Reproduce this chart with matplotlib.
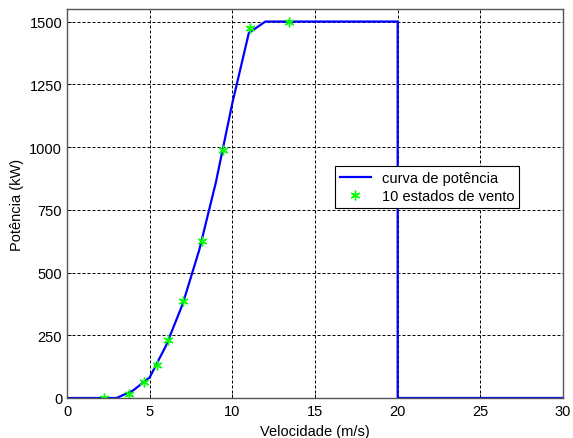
import matplotlib
matplotlib.use("Agg")
import matplotlib.pyplot as plt

# curva de potência (m/s, kW)
vel_curva = [0, 1, 2, 3, 4, 5, 6, 7, 8, 9, 10, 11, 12, 13, 14, 15, 16, 17, 18, 19, 20, 20, 25, 30]
pot_curva = [0, 0, 0, 0, 30, 82, 210, 375, 590, 858, 1175, 1455, 1500, 1500, 1500, 1500, 1500,
             1500, 1500, 1500, 1500, 0, 0, 0]

# 10 estados de vento
vel_estados = [2.26, 3.77, 4.68, 5.42, 6.13, 7.04, 8.15, 9.42, 11.07, 13.45]
pot_estados = [0, 16, 62, 132, 232, 387, 625, 987, 1475, 1500]

xticks = [0, 5, 10, 15, 20, 25, 30]
yticks = [0, 250, 500, 750, 1000, 1250, 1500]

plt.rcParams['font.family'] = ['Liberation Sans', 'DejaVu Sans']
plt.rcParams['font.size'] = 10.5

fig = plt.figure(figsize=(5.73, 4.39), dpi=100)
ax = fig.add_axes([67 / 573, 1 - 399 / 439, 496 / 573, 389 / 439])

ax.plot(vel_curva, pot_curva, color=(0, 0, 1), linewidth=1.6, label='curva de potência')
ax.plot(vel_estados, pot_estados, linestyle='none', marker=(6, 2, 0), markersize=7,
        markeredgewidth=1.0, color=(0, 1, 0), label='10 estados de vento')

ax.set_xlim(0, 30)
ax.set_ylim(0, 1550)
ax.set_xticks(xticks)
ax.set_yticks(yticks)
ax.grid(True, color='black', linestyle=(0, (3, 2)), linewidth=0.72)
ax.tick_params(direction='in', length=3, width=0.7, colors='black')
ax.tick_params(axis='x', pad=4.5)
ax.tick_params(axis='y', pad=3.5)
for s in ax.spines.values():
    s.set_color('#555555')
    s.set_linewidth(1.0)

ax.set_xlabel('Velocidade (m/s)', labelpad=4)
ax.set_ylabel('Potência (kW)', labelpad=4)

leg = ax.legend(loc='upper left', bbox_to_anchor=(0.54, 0.597), fancybox=False,
                framealpha=1, edgecolor='black', borderpad=0.36, handlelength=2.1,
                handletextpad=0.75, labelspacing=0.25, borderaxespad=0)
leg.get_frame().set_linewidth(0.8)

fig.savefig('out.png', dpi=100, facecolor='white')
